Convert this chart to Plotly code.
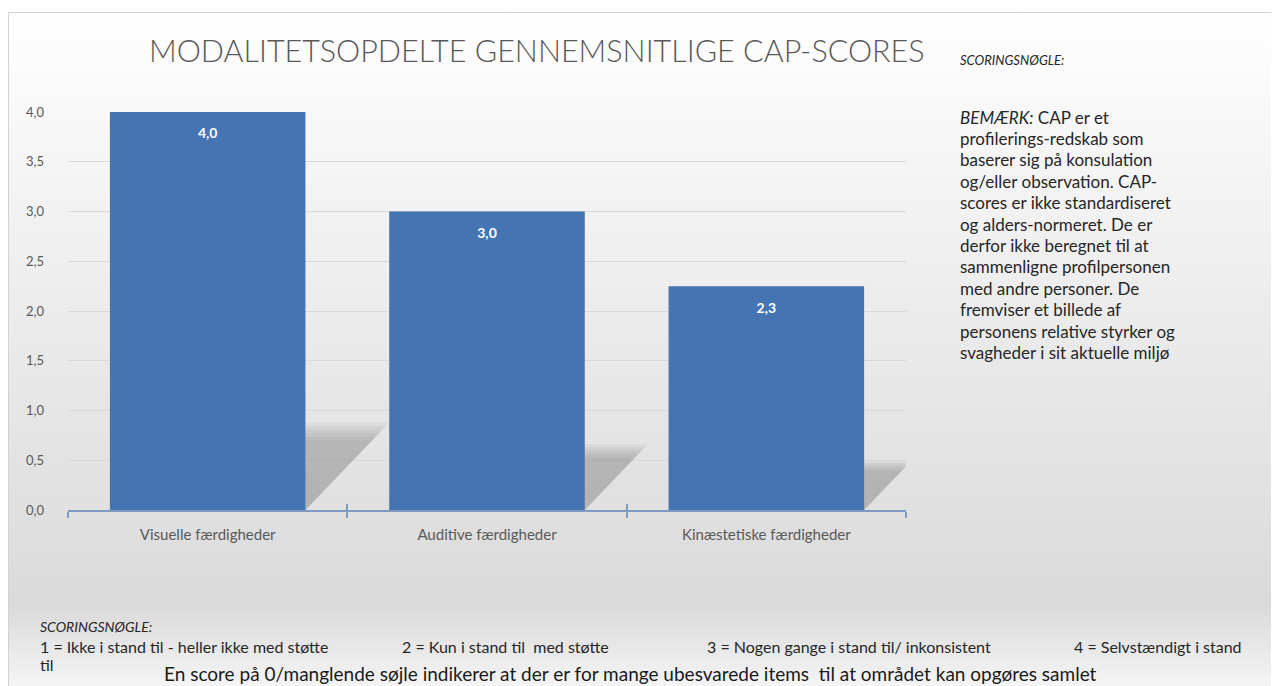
import base64
import plotly.graph_objects as go

# ---------------- data ----------------
categories = ["Visuelle færdigheder", "Auditive færdigheder", "Kinæstetiske færdigheder"]
scores = [4.0, 3.0, 2.25]
y_tick_values = [0.0, 0.5, 1.0, 1.5, 2.0, 2.5, 3.0, 3.5, 4.0]

title_text = "MODALITETSOPDELTE GENNEMSNITLIGE CAP-SCORES"
side_heading = "SCORINGSNØGLE:"
side_lines = [
    "<i>BEMÆRK:</i> CAP er et",
    "profilerings-redskab som",
    "baserer sig på konsulation",
    "og/eller observation. CAP-",
    "scores er ikke standardiseret",
    "og alders-normeret. De er",
    "derfor ikke beregnet til at",
    "sammenligne profilpersonen",
    "med andre personer. De",
    "fremviser et billede af",
    "personens relative styrker og",
    "svagheder i sit aktuelle miljø",
]
key_heading = "SCORINGSNØGLE:"
key_items = [
    "1 = Ikke i stand til - heller ikke med støtte",
    "2 = Kun i stand til  med støtte",
    "3 = Nogen gange i stand til/ inkonsistent",
    "4 = Selvstændigt i stand",
]
key_wrap = "til"
footer_text = "En score på 0/manglende søjle indikerer at der er for mange ubesvarede items  til at området kan opgøres samlet"

# ---------------- layout geometry (reference pixels) ----------------
OFF = 8                      # page body margin
W, H = 1279 - OFF, 686 - OFF
PL, PR, PT, PB = 68, 906, 112, 510   # plot area in reference pixels


def px(x):
    return (x - PL) / (PR - PL)


def py(y):
    return (PB - y) / (PB - PT)


FONT = "Lato, 'Open Sans', sans-serif"
GREY = "#595959"
DARK = "#262626"
BAR = "#4574b2"
AXIS = "#7f9bbf"

# background gradient as an svg image
svg = '''<svg xmlns="http://www.w3.org/2000/svg" width="1271" height="674" viewBox="0 0 1271 674" preserveAspectRatio="none">
<defs><linearGradient id="g" x1="0" y1="0" x2="0" y2="1">
<stop offset="0" stop-color="#ffffff"/>
<stop offset="0.15" stop-color="#f8f8f8"/>
<stop offset="0.45" stop-color="#ebebeb"/>
<stop offset="0.72" stop-color="#e0e0e0"/>
<stop offset="0.86" stop-color="#dadada"/>
<stop offset="1" stop-color="#fafafa"/>
</linearGradient></defs>
<rect x="0.5" y="0.5" width="1280" height="690" fill="url(#g)" stroke="#d2d2d2" stroke-width="1"/>
</svg>'''
bg_src = "data:image/svg+xml;base64," + base64.b64encode(svg.encode()).decode()

fig = go.Figure()

# soft shadows (derived from bar values), drawn on the base subplot
HALF = 0.35
SH_H = 0.22
SH_S = 0.075
N_LAYERS = 6
for k in range(N_LAYERS):
    layer_scale = 1.0 - 0.04 * k
    for i, v in enumerate(scores):
        h = v * SH_H * layer_scale
        s = v * SH_S * layer_scale
        fig.add_trace(go.Scatter(
            x=[i - HALF, i + HALF, i + HALF + s, i - HALF + s, i - HALF],
            y=[0, 0, h, h, 0],
            mode="lines", fill="toself", line=dict(width=0),
            fillcolor="rgba(110,110,110,0.075)",
            hoverinfo="skip", showlegend=False,
        ))

# bars on an overlaid x axis so that they are drawn above the shadows
fig.add_trace(go.Bar(
    x=list(range(len(categories))), y=scores, width=2 * HALF,
    xaxis="x2", yaxis="y",
    marker=dict(color=BAR, line=dict(width=0)),
    showlegend=False, hoverinfo="skip",
))

# value labels
LABEL_OFFSET = 0.23
fig.add_trace(go.Scatter(
    x=list(range(len(categories))), y=[v - LABEL_OFFSET for v in scores],
    xaxis="x2", yaxis="y",
    mode="text", texttemplate="%{customdata:.1f}", customdata=scores,
    textfont=dict(family=FONT, size=14, color="white", weight="bold"),
    showlegend=False, hoverinfo="skip",
))

bounds = [i - 0.5 for i in range(len(categories) + 1)]

fig.update_layout(
    width=W, height=H,
    margin=dict(l=PL - OFF, r=W - (PR - OFF), t=PT - OFF, b=H - (PB - OFF)),
    paper_bgcolor="white", plot_bgcolor="rgba(0,0,0,0)",
    separators=",.",
    font=dict(family=FONT, color=GREY),
    xaxis=dict(
        range=[-0.5, 2.5], tickmode="array",
        tickvals=list(range(len(categories))), ticktext=categories,
        tickfont=dict(family=FONT, size=15, color=GREY),
        ticks="", showgrid=False, zeroline=False, ticklabelstandoff=10,
        showline=True, linecolor=AXIS, linewidth=1.5,
        minor=dict(tickmode="array", tickvals=bounds, ticks="outside",
                   ticklen=6, tickcolor=AXIS, tickwidth=1.5, showgrid=False),
        fixedrange=True,
    ),
    xaxis2=dict(
        range=[-0.5, 2.5], overlaying="x", anchor="y", side="bottom",
        tickmode="array", tickvals=bounds, ticks="inside", ticklen=6,
        tickcolor=AXIS, tickwidth=1.5, showticklabels=False,
        showgrid=False, zeroline=False, showline=False,
    ),
    yaxis=dict(
        range=[0, 4], tickmode="array", tickvals=y_tick_values,
        tickformat=".1f", tickfont=dict(family=FONT, size=13, color=GREY),
        showgrid=True, gridcolor="#d9d9d9", gridwidth=1,
        zeroline=False, showline=False, ticks="", ticklabelstandoff=23,
    ),
    images=[dict(
        source=bg_src, xref="paper", yref="paper",
        x=px(8), y=py(12), sizex=px(1279) - px(8), sizey=py(12) - py(686),
        xanchor="left", yanchor="top", sizing="stretch", layer="below",
    )],
)


def note(text, x, y, size, color=DARK, anchor="left", weight=None):
    f = dict(family=FONT, size=size, color=color)
    if weight:
        f["weight"] = weight
    return dict(text=text, x=px(x), y=py(y), xref="paper", yref="paper",
                showarrow=False, xanchor=anchor, yanchor="middle", font=f)


ann = [note(title_text, 537, 50, 30.5, GREY, "center", 300),
       note(f"<i>{side_heading}</i>", 958, 60, 13)]
LINE_GAP = 21.4
for k, line in enumerate(side_lines):
    ann.append(note(line, 958, 117 + k * LINE_GAP, 17))

ann.append(note(f"<i>{key_heading}</i>", 38, 626, 14))
key_x = [38, 400, 705, 1072]
for xk, item in zip(key_x, key_items):
    ann.append(note(item, xk, 646, 16))
ann.append(note(key_wrap, 38, 664, 16))
ann.append(note(footer_text, 630, 673, 19, "#1a1a1a", "center"))
fig.update_layout(annotations=ann)

fig.write_html("out.html")
